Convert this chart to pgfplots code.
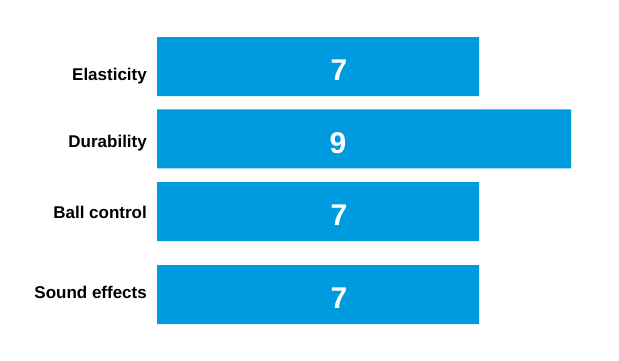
\documentclass[border=0pt]{standalone}
\usepackage{pgfplots}
\pgfplotsset{compat=1.18}
\usepackage{fontspec}
\setmainfont{Liberation Sans}
\definecolor{barblue}{RGB}{0,155,223}
\begin{document}
\begin{tikzpicture}
\begin{axis}[
  scale only axis, width=619pt, height=360pt,
  xmin=-3.41304, xmax=10.04348,
  ymin=0, ymax=360, y dir=reverse,
  hide axis, clip=false,
]
\path (rel axis cs:0,0) rectangle (rel axis cs:1,1);
\addplot[xbar, bar width=59pt, fill=barblue, draw=none] coordinates {
  (7,66.5) (9,138.75) (7,211.5) (7,294.5)
};
\addplot[draw=none, mark=none, nodes near coords, point meta=explicit symbolic,
  every node near coord/.style={anchor=base east, inner sep=0pt, text=black,
    font=\fontsize{17}{20}\selectfont\bfseries}]
  coordinates {
  (-0.217,80) [Elasticity]
  (-0.217,147.7) [Durability]
  (-0.217,218.3) [Ball control]
  (-0.217,298.3) [Sound effects]
};
\addplot[draw=none, mark=none, nodes near coords, point meta=explicit symbolic,
  every node near coord/.style={anchor=center, inner sep=0pt, text=white,
    font=\fontsize{30}{34}\selectfont\bfseries}]
  coordinates {
  (3.957,70) [7]
  (3.935,143) [9]
  (3.957,215) [7]
  (3.957,298) [7]
};
\end{axis}
\end{tikzpicture}
\end{document}
